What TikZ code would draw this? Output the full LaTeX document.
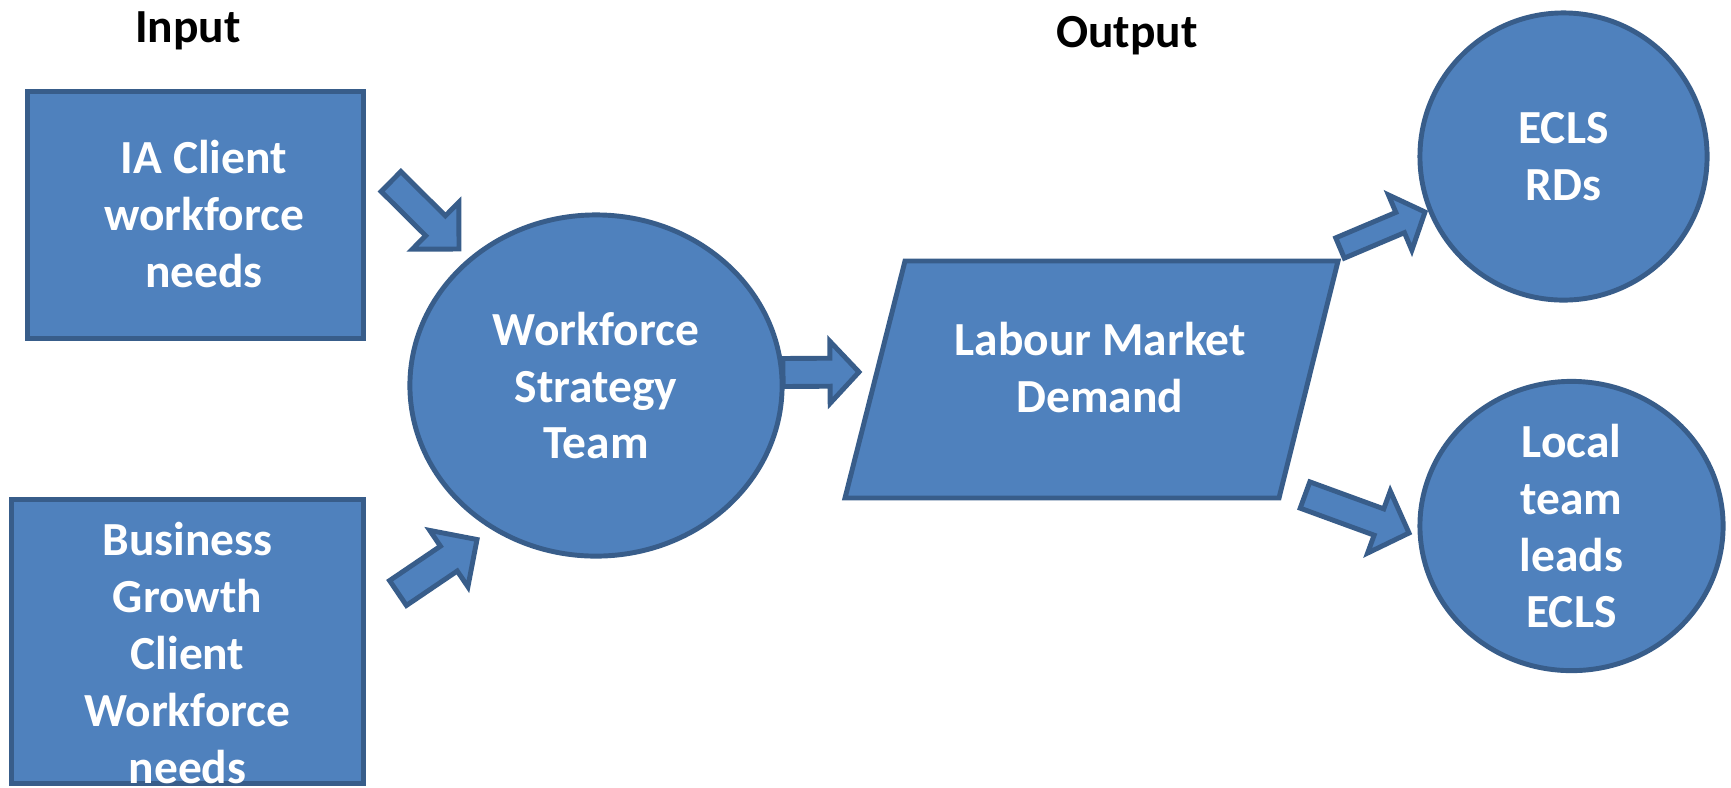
\documentclass[tikz,border=0pt]{standalone}
\usepackage{fontspec}
\setmainfont{Carlito}
\usepackage{tikz}
\usetikzlibrary{shapes.geometric, calc, positioning}

\definecolor{boxblue}{HTML}{4F81BD}
\definecolor{edgeblue}{HTML}{385D8A}

% fat arrow: name, tail, tip, body half width, head half width, head length
\newcommand{\fatarrow}[6]{%
  \coordinate (#1-b) at ($(#3)!#6!(#2)$);
  \draw[blockline] ($(#2)!#4!90:(#3)$) -- ($(#1-b)!#4!90:(#3)$) -- ($(#1-b)!#5!90:(#3)$)
    -- (#3) -- ($(#1-b)!#5!-90:(#3)$) -- ($(#1-b)!#4!-90:(#3)$) -- ($(#2)!#4!-90:(#3)$) -- cycle;
}

\begin{document}
\begin{tikzpicture}[x=0.01cm,y=-0.01cm,
  blockline/.style={draw=edgeblue, fill=boxblue, line width=1.4pt},
  txt/.style={text=white, font=\bfseries\fontsize{13.5}{16.2}\selectfont, align=center, inner sep=0},
  heading/.style={text=black, font=\bfseries\fontsize{13.5}{16.2}\selectfont, inner sep=0, anchor=base}]
\useasboundingbox (0,0) rectangle (1731,787);
% The headings
\node[heading] (input) at (188,42) {Input};
\node[heading] (output) at (1127,47) {Output};
% Input boxes
\node[blockline, rectangle, inner sep=0, minimum width=3.35cm, minimum height=2.46cm] (ia) at (195.5,215) {};
\node[txt] (iatext) at ($(ia.center)+(8.5,-1)$) {IA Client\\workforce\\needs};
\node[blockline, rectangle, inner sep=0, minimum width=3.51cm, minimum height=2.83cm] (bg) at (187.5,641.5) {};
\node[txt] (bgtext) at ($(bg.center)+(0,11.5)$) {Business\\Growth\\Client\\Workforce\\needs};
% Team
\node[blockline, ellipse, txt, minimum width=3.72cm, minimum height=3.41cm] (wst) at (596,385.5) {Workforce\\Strategy\\Team};
% Demand
\draw[blockline] (905,261) -- (1338,261) -- (1279,498) -- (845,498) -- cycle;
\node[txt] (lmd) at (1100,367.5) {Labour Market\\Demand};
% Outputs
\node[blockline, ellipse, txt, minimum width=2.87cm, minimum height=2.87cm] (rds) at (1563.5,156.5) {ECLS\\RDs};
\node[blockline, ellipse, txt, minimum width=3.03cm, minimum height=2.86cm] (leads) at (1571.5,526) {Local\\team\\leads\\ECLS};
% Arrows
\coordinate (a1s) at (391,181.5);  \coordinate (a1e) at (459,249);
\coordinate (a2s) at (398,593);    \coordinate (a2e) at (477,539.5);
\coordinate (a3s) at (783,372.5);  \coordinate (a3e) at (859,372);
\coordinate (a4s) at (1340,248);   \coordinate (a4e) at (1425,212);
\coordinate (a5s) at (1305,495);   \coordinate (a5e) at (1409,533);
\fatarrow{ia-wst}{a1s}{a1e}{0.14cm}{0.33cm}{0.33cm}
\fatarrow{bg-wst}{a2s}{a2e}{0.15cm}{0.34cm}{0.34cm}
\fatarrow{wst-lmd}{a3s}{a3e}{0.14cm}{0.31cm}{0.29cm}
\fatarrow{lmd-rds}{a4s}{a4e}{0.11cm}{0.30cm}{0.27cm}
\fatarrow{lmd-leads}{a5s}{a5e}{0.14cm}{0.33cm}{0.32cm}
\end{tikzpicture}
\end{document}
